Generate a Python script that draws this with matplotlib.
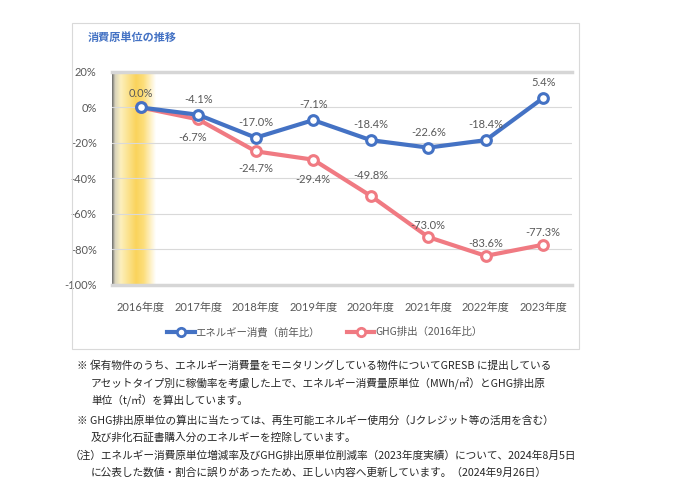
import numpy as np
import matplotlib.pyplot as plt
from matplotlib.lines import Line2D
from matplotlib.patches import Rectangle
from matplotlib.colors import LinearSegmentedColormap

plt.rcParams['font.family'] = ['Noto Sans CJK JP', 'DejaVu Sans']

# データ
years = ['2016年度', '2017年度', '2018年度', '2019年度',
         '2020年度', '2021年度', '2022年度', '2023年度']
energy = [0.0, -4.1, -17.0, -7.1, -18.4, -22.6, -18.4, 5.4]
ghg = [0.0, -6.7, -24.7, -29.4, -49.8, -73.0, -83.6, -77.3]
yticks = [20, 0, -20, -40, -60, -80, -100]

notes = [
    (77, 366, '※ 保有物件のうち、エネルギー消費量をモニタリングしている物件についてGRESB に提出している'),
    (91, 384, 'アセットタイプ別に稼働率を考慮した上で、エネルギー消費量原単位（MWh/㎡）とGHG排出原'),
    (91, 401, '単位（t/㎡）を算出しています。'),
    (77, 421, '※ GHG排出原単位の算出に当たっては、再生可能エネルギー使用分（Jクレジット等の活用を含む）'),
    (91, 438, '及び非化石証書購入分のエネルギーを控除しています。'),
    (70, 456, '（注）エネルギー消費原単位増減率及びGHG排出原単位削減率（2023年度実績）について、2024年8月5日'),
    (91, 473, 'に公表した数値・割合に誤りがあったため、正しい内容へ更新しています。（2024年9月26日）'),
]

blue = '#4472C4'
pink = '#F07A82'
gray_txt = '#595959'
num_font = ['Lato', 'Noto Sans CJK JP']

W, H = 680, 500
fig = plt.figure(figsize=(6.8, 5), dpi=100)

# 枠
fig.patches.append(Rectangle((72 / W, 1 - 349 / H), (579 - 72) / W, (349 - 23) / H,
                             transform=fig.transFigure, fill=False,
                             edgecolor='#D9D9D9', linewidth=0.8))

fig.text(88 / W, 1 - 37 / H, '消費原単位の推移', color=blue, fontsize=8,
         fontweight='bold', va='center', ha='left')

ax = fig.add_axes([112 / W, 1 - 285 / H, (572 - 112) / W, (285 - 72) / H])
x = np.arange(len(years))

# 2016年度の帯（グラデーション）
cmap = LinearSegmentedColormap.from_list('band', [
    (0.0, (0.42, 0.42, 0.42)),
    (0.07, (0.85, 0.83, 0.74)),
    (0.2, (0.99, 0.94, 0.74)),
    (0.55, (0.98, 0.83, 0.36)),
    (0.72, (0.99, 0.87, 0.48)),
    (1.0, (1.0, 1.0, 1.0)),
])
grad = np.linspace(0, 1, 256).reshape(1, -1)
ax.imshow(grad, cmap=cmap, aspect='auto', extent=(-0.5, 0.25, -100, 20), zorder=0)

ax.set_xlim(-0.5, 7.5)
ax.set_ylim(-100, 20)
ax.set_yticks(yticks)
ax.set_yticklabels([f'{v}%' for v in yticks], family=num_font)
ax.set_xticks(x)
ax.set_xticklabels(years, family=num_font)
ax.tick_params(length=0, labelsize=8, labelcolor=gray_txt)
ax.tick_params(axis='x', pad=12)
ax.tick_params(axis='y', pad=11)
ax.grid(axis='y', color='#D9D9D9', linewidth=0.8, zorder=1)
for side in ['left', 'right']:
    ax.spines[side].set_visible(False)
for side in ['top', 'bottom']:
    ax.spines[side].set_color('#D6D6D6')
    ax.spines[side].set_linewidth(2.5)

ax.plot(x, ghg, color=pink, lw=3, marker='o', ms=7, mfc='white', mec=pink,
        mew=2.2, zorder=3)
ax.plot(x, energy, color=blue, lw=3, marker='o', ms=7, mfc='white', mec=blue,
        mew=2.2, zorder=4)

# データラベル
energy_off = [(0, 10), (0, 11), (0, 11), (0, 11), (0, 11), (0, 11), (0, 11), (0, 11)]
ghg_off = [(0, 10), (-4, -13), (0, -12), (0, -14), (0, 15), (0, 8), (0, 9), (0, 9)]
for i in range(len(years)):
    if i > 0:
        ax.annotate(f'{energy[i]:.1f}%', (x[i], energy[i]), xytext=energy_off[i],
                    textcoords='offset points', ha='center', va='center',
                    fontsize=8, color=gray_txt, family=num_font, zorder=5)
    ax.annotate(f'{ghg[i]:.1f}%', (x[i], ghg[i]), xytext=ghg_off[i],
                textcoords='offset points', ha='center', va='center',
                fontsize=8, color=gray_txt, family=num_font, zorder=5)

handles = [
    Line2D([], [], color=blue, lw=3, marker='o', ms=6, mfc='white', mec=blue, mew=2),
    Line2D([], [], color=pink, lw=3, marker='o', ms=6, mfc='white', mec=pink, mew=2),
]
fig.legend(handles, ['エネルギー消費（前年比）', 'GHG排出（2016年比）'],
           loc='center', bbox_to_anchor=(325 / W, 1 - 332 / H), ncol=2,
           frameon=False, fontsize=7.5, handlelength=2.6, handletextpad=0.1,
           columnspacing=2.6, labelcolor=gray_txt)

# 注記
for nx, ny, txt in notes:
    fig.text(nx / W, 1 - ny / H, txt, fontsize=7.7, color='#262626',
             va='center', ha='left')

fig.savefig('out.png', dpi=100)
